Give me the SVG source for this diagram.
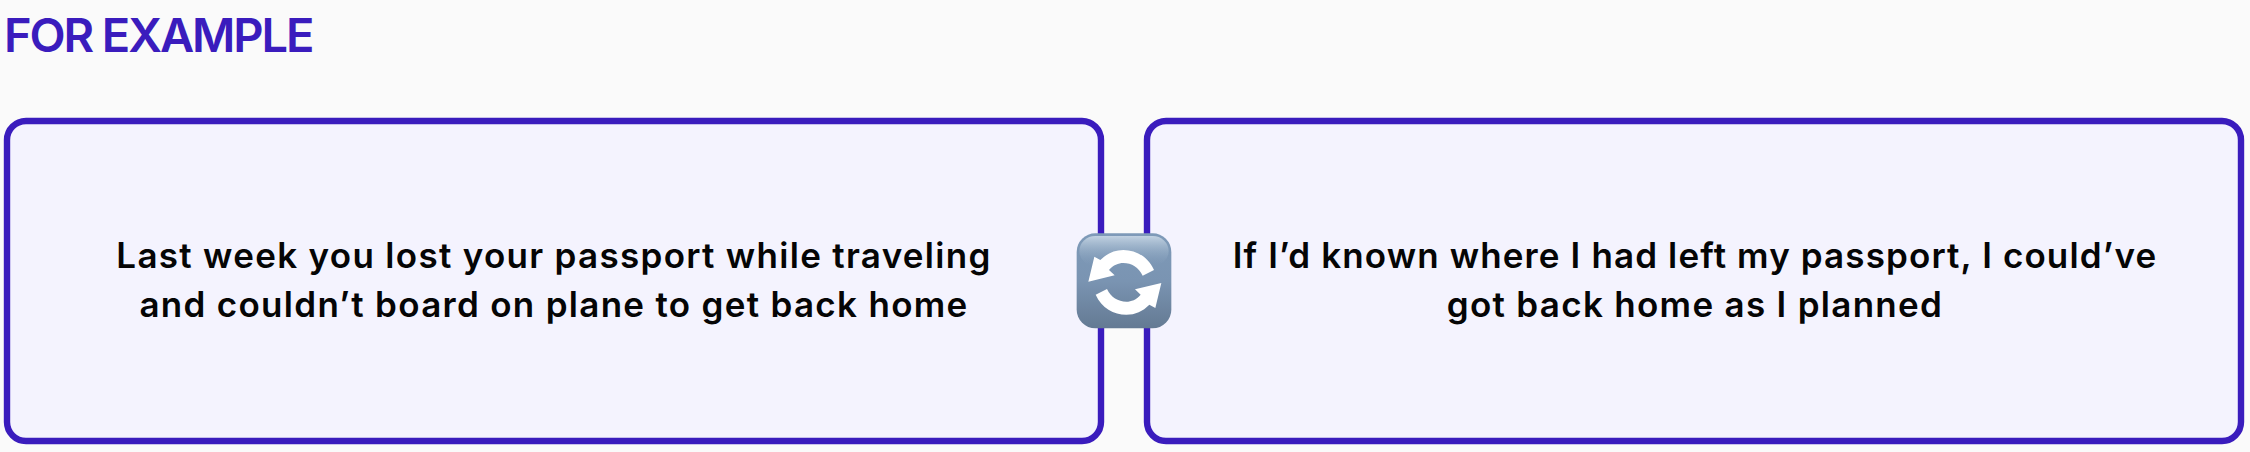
<svg xmlns="http://www.w3.org/2000/svg" width="2250" height="452" viewBox="0 0 2250 452">
<style>
.box{fill:#f4f3fe;stroke:#3a1cbd;stroke-width:6.4}
.t{font-family:"Inter","Liberation Sans",sans-serif;font-weight:600;font-size:35px;letter-spacing:1.3px;fill:#050505;text-anchor:middle}
.r{letter-spacing:1.13px}
.h{font-family:"Inter","Liberation Sans",sans-serif;font-weight:600;font-size:47px;letter-spacing:-2.1px;fill:#3a1cbd}
</style>
<defs>
<linearGradient id="g" x1="0" y1="0" x2="0" y2="1"><stop offset="0" stop-color="#7e9ab8"/><stop offset="0.5" stop-color="#7a94b2"/><stop offset="1" stop-color="#647a93"/></linearGradient>
<linearGradient id="s" x1="0" y1="0" x2="0" y2="1"><stop offset="0" stop-color="#c9d8e6" stop-opacity="0.9"/><stop offset="1" stop-color="#86a0bc" stop-opacity="0"/></linearGradient>
<path id="a" d="M342 180C324 140 288 120 250 120C223 120 201 130 181 150L163 140L145 215L224 196L207 180C220 165 235 159 250 159C275 159 296 172 308 197Z" fill="#fff"/>
</defs>
<rect width="2250" height="452" fill="#fafafa"/>
<g id="heading"><text class="h" x="4" y="52">FOR EXAMPLE</text></g>
<g id="left-box">
<rect class="box" x="7" y="121" width="1094" height="320" rx="19"/>
<text class="t" x="554" y="268">Last week you lost your passport while traveling</text>
<text class="t" x="554" y="317">and couldn’t board on plane to get back home</text>
</g>
<g id="right-box">
<rect class="box" x="1147" y="121" width="1094" height="320" rx="19"/>
<text class="t r" x="1695" y="268">If I’d known where I had left my passport, I could’ve</text>
<text class="t" x="1695" y="317">got back home as I planned</text>
</g>
<g id="swap-icon" transform="translate(1040 210) scale(0.33333)">
<rect x="110" y="70" width="284" height="285" rx="56" fill="url(#g)"/>
<rect x="118" y="78" width="268" height="90" rx="48" fill="url(#s)"/>
<use href="#a"/>
<use href="#a" transform="rotate(180 254.5 217)"/>
</g>
<g id="connectors"></g>
</svg>
